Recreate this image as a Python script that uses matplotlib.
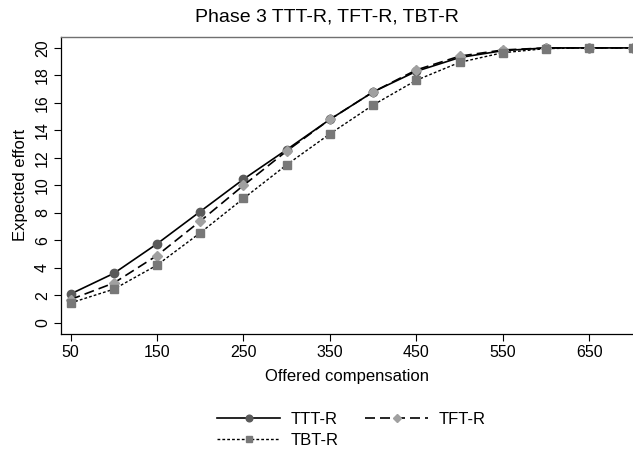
import matplotlib
matplotlib.use("Agg")
import matplotlib.pyplot as plt

plt.rcParams['font.family'] = ['Liberation Sans', 'DejaVu Sans']

compensation = [50, 100, 150, 200, 250, 300, 350, 400, 450, 500, 550, 600, 650, 700]
ttt_r = [2.1, 3.6, 5.75, 8.1, 10.45, 12.6, 14.8, 16.8, 18.3, 19.3, 19.8, 20.0, 20.0, 20.0]
tft_r = [1.7, 2.9, 4.9, 7.4, 10.0, 12.5, 14.8, 16.8, 18.4, 19.4, 19.85, 20.0, 20.0, 20.0]
tbt_r = [1.45, 2.45, 4.2, 6.55, 9.05, 11.5, 13.75, 15.85, 17.65, 18.95, 19.65, 19.95, 20.0, 20.0]
xticks = [50, 150, 250, 350, 450, 550, 650]
yticks = [0, 2, 4, 6, 8, 10, 12, 14, 16, 18, 20]

fig = plt.figure(figsize=(6.33, 4.5), dpi=100)
ax = fig.add_axes([0.0964, 0.258, 0.9036, 0.66])

h1, = ax.plot(compensation, ttt_r, color='black', lw=1.2, ls='-', marker='o', ms=6,
              mfc='#5a5a5a', mec='#5a5a5a', label='TTT-R')
h2, = ax.plot(compensation, tft_r, color='black', lw=1.2, ls=(0, (6, 3)), marker='D', ms=5.5,
              mfc='#a0a0a0', mec='#a0a0a0', label='TFT-R')
h3, = ax.plot(compensation, tbt_r, color='black', lw=1.0, ls=(0, (2, 1.5)), marker='s', ms=5.5,
              mfc='#787878', mec='#787878', label='TBT-R')

ax.set_xlim(39, 700.5)
ax.set_ylim(-0.8, 20.8)
ax.set_xticks(xticks)
ax.set_yticks(yticks)
ax.tick_params(axis='both', direction='out', length=5, width=0.8, labelsize=11.5,
               colors='black', pad=3)
for lab in ax.get_yticklabels():
    lab.set_rotation(90)
    lab.set_va('center')
ax.spines['right'].set_visible(False)
ax.spines['top'].set_color('#707070')
ax.spines['top'].set_linewidth(1.0)
ax.spines['left'].set_linewidth(0.9)
ax.spines['bottom'].set_linewidth(0.9)

ax.set_xlabel('Offered compensation', fontsize=12, labelpad=6.5)
ax.set_ylabel('Expected effort', fontsize=12, labelpad=5)
fig.text(0.517, 1 - 21 / 450, 'Phase 3 TTT-R, TFT-R, TBT-R', fontsize=14,
         ha='center', va='baseline')

fig.legend([h1, h3, h2], ['TTT-R', 'TBT-R', 'TFT-R'], loc='center',
           bbox_to_anchor=(0.555, 0.044), ncol=2, frameon=False, fontsize=12,
           handlelength=3.8, columnspacing=1.6, handletextpad=0.6,
           labelspacing=0.35, markerscale=0.8, borderpad=0.2)

fig.savefig('out.png', dpi=100)
